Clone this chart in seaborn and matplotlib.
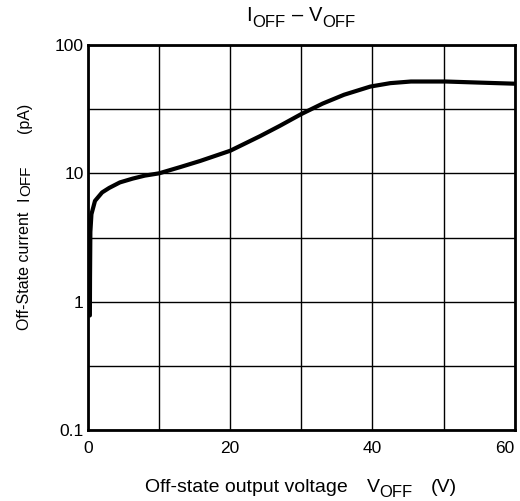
import numpy as np
import pandas as pd
import seaborn as sns
import matplotlib.pyplot as plt
from matplotlib.transforms import IdentityTransform
from matplotlib.ticker import FixedLocator, NullFormatter

# curve (V, pA)
v_off = [0.28, 0.3, 0.35, 0.5, 1.0, 2.0, 3.0, 4.5, 6.3, 8.0, 10.0, 13.0,
         15.8, 20.0, 24.2, 27.0, 30.0, 33.0, 36.0, 39.7, 42.5, 45.4, 50.3, 55.0, 60.0]
i_off = [0.78, 1.5, 3.5, 4.8, 6.1, 7.1, 7.7, 8.5, 9.1, 9.6, 10.0, 11.2,
         12.5, 15.0, 19.5, 23.5, 29.0, 35.0, 41.0, 47.5, 50.5, 52.0, 52.0, 51.0, 50.0]

x_ticks = [0, 20, 40, 60]
x_tick_labels = ["0", "20", "40", "60"]
x_grid = [10, 30, 50]
y_ticks = [0.1, 1, 10, 100]
y_tick_labels = ["0.1", "1", "10", "100"]
y_grid = [0.316, 3.16, 31.6]

df = pd.DataFrame({"V": v_off, "I": i_off})

sns.set_style("white")
plt.rcParams["font.family"] = ["Liberation Sans", "DejaVu Sans"]
plt.rcParams["text.color"] = "black"

W, H = 520, 501
fig = plt.figure(figsize=(W / 100, H / 100), dpi=100)
ax = fig.add_axes([0.169, 0.142, 0.821, 0.768])

sns.lineplot(data=df, x="V", y="I", ax=ax, color="black", linewidth=3)

ax.set_yscale("log")
ax.set_xlim(0, 60)
ax.set_ylim(0.1, 100)

ax.xaxis.set_major_locator(FixedLocator(x_ticks))
ax.xaxis.set_minor_locator(FixedLocator(x_grid))
ax.set_xticklabels(x_tick_labels)
ax.yaxis.set_major_locator(FixedLocator(y_ticks))
ax.yaxis.set_minor_locator(FixedLocator(y_grid))
ax.set_yticklabels(y_tick_labels)
ax.yaxis.set_minor_formatter(NullFormatter())

ax.grid(True, which="both", color="black", linewidth=1.0)
ax.tick_params(which="both", length=0, labelsize=12.5, colors="black")
ax.tick_params(axis="x", pad=8)
ax.tick_params(axis="y", pad=3)
ax.get_xticklabels()[-1].set_horizontalalignment("right")
ax.get_xticklabels()[-1].set_x(60)

for s in ax.spines.values():
    s.set_color("black")
    s.set_linewidth(2)

ax.set_xlabel("")
ax.set_ylabel("")

# labels with subscripts built from pieces (text, fontsize, gap before, drop), pixel coords
renderer = fig.canvas.get_renderer()


def piece_width(txt, size):
    t = fig.text(0, 0, txt, fontsize=size)
    w = t.get_window_extent(renderer).width
    t.remove()
    return w


def draw_pieces(pieces, x, y, vertical=False, center=False):
    widths = [piece_width(p[0], p[1]) for p in pieces]
    if center:
        total = sum(widths) + sum(p[2] for p in pieces)
        x -= total / 2
    pos = y if vertical else x
    for (txt, size, gap, drop), w in zip(pieces, widths):
        pos += gap
        if vertical:
            fig.text(x + drop, pos, txt, fontsize=size, rotation=90, rotation_mode="anchor",
                     ha="left", va="baseline", transform=IdentityTransform())
        else:
            fig.text(pos, y - drop, txt, fontsize=size, ha="left", va="baseline",
                     transform=IdentityTransform())
        pos += w


# title  I_OFF – V_OFF
draw_pieces([("I", 14.5, 0, 0), ("OFF", 12, 0, 6), ("–", 14.5, 7, 0),
             ("V", 14.5, 6, 0), ("OFF", 12, 0, 6)], 301, H - 21, center=True)

# x label
draw_pieces([("Off-state output voltage", 14, 0, 0), ("V", 14, 19, 0),
             ("OFF", 12, 0, 5), ("(V)", 14, 18, 0)], 145, H - 492)

# y label
draw_pieces([("Off-State current", 11.5, 0, 0), ("I", 11.5, 11, 0),
             ("OFF", 11, 0, 1), ("(pA)", 11.5, 33, 0)], 29, H - 330, vertical=True)

fig.savefig("out.png", dpi=100)
